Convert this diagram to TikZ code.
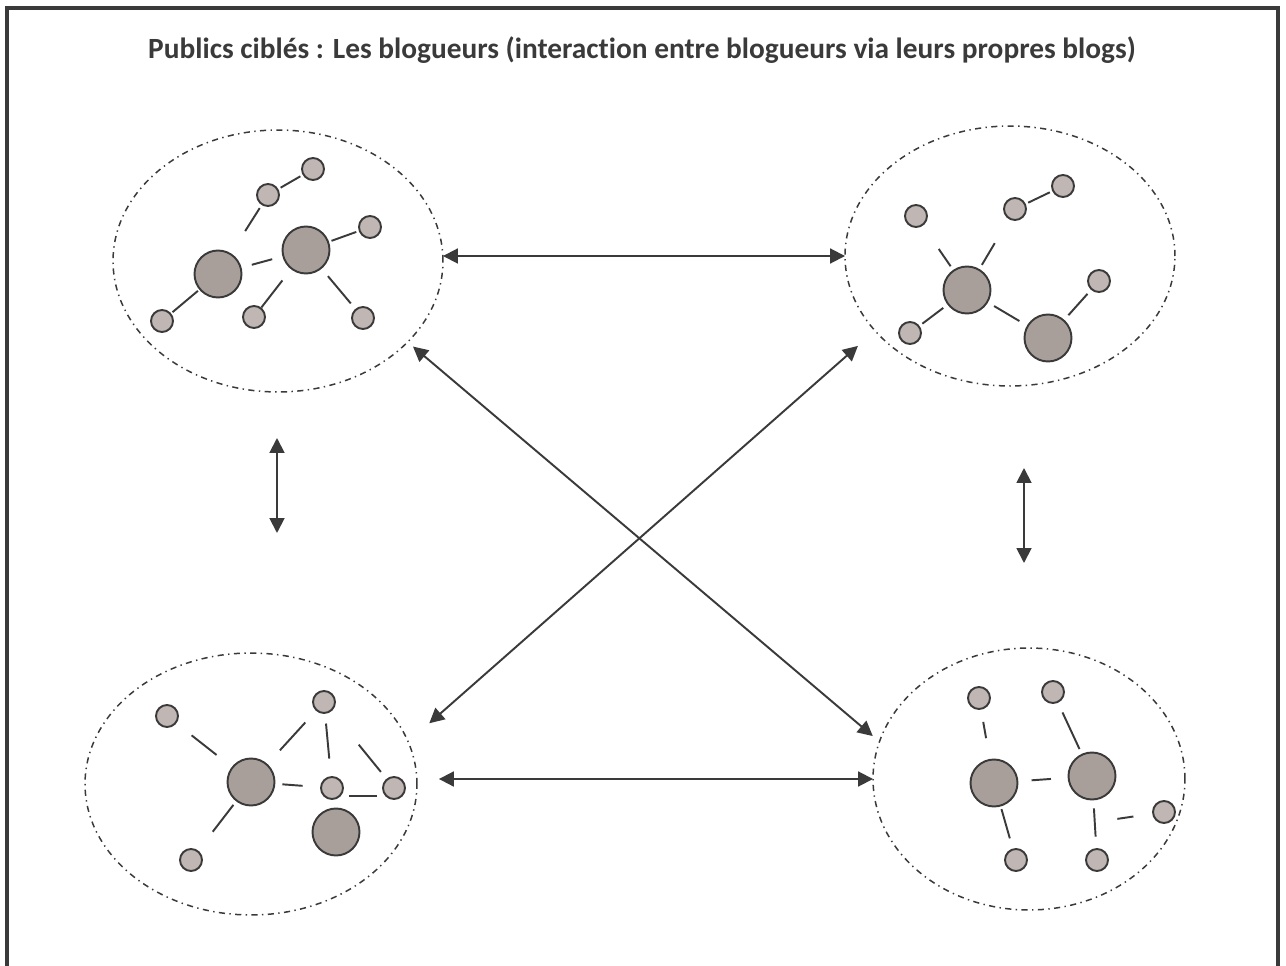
\documentclass[tikz,border=0pt]{standalone}
\usepackage{fontspec}
\setmainfont{Carlito}[Ligatures = NoCommon]
\usetikzlibrary{arrows.meta, shapes.geometric, calc}

\definecolor{trait}{HTML}{3A3A3A}
\definecolor{clair}{HTML}{C0B7B4}
\definecolor{fonce}{HTML}{A89F9B}

\begin{document}
\begin{tikzpicture}[x = 0.02cm, y = -0.02cm,
	petit/.style = {circle, draw = trait, line width = 1.1pt, fill = clair, minimum size = 0.44cm, inner sep = 0},
	grand/.style = {circle, draw = trait, line width = 1.1pt, fill = fonce, minimum size = 0.94cm, inner sep = 0},
	lien/.style = {draw = trait, line width = 1.1pt},
	groupe/.style = {ellipse, draw = trait, line width = 0.85pt, dash pattern = on 3.5pt off 2.5pt on 0.8pt off 2.5pt, inner sep = 0, outer sep = 0},
	fleche/.style = {{Triangle[length = 8.5pt, width = 8.5pt]}-{Triangle[length = 8.5pt, width = 8.5pt]}, draw = trait, line width = 1.1pt}]
	%	cadre
	
	\useasboundingbox (0, 0) rectangle (1286, 966);
	\draw[trait, line width = 2.2pt] (7, 980) -- (7, 8) -- (1278, 8) -- (1278, 980);
	\node[font = \bfseries\fontsize{16.7}{20}\selectfont, text = trait] (titre) at (642, 50) {Publics ciblés : Les blogueurs (interaction entre blogueurs via leurs propres blogs)};
	
	%	les quatre groupes
	\node[groupe, minimum width = 6.6cm, minimum height = 5.24cm] (hg) at (278, 261) {};
	\node[groupe, minimum width = 6.6cm, minimum height = 5.2cm] (hd) at (1010, 256) {};
	\node[groupe, minimum width = 6.64cm, minimum height = 5.24cm] (bg) at (251, 784) {};
	\node[groupe, minimum width = 6.24cm, minimum height = 5.24cm] (bd) at (1029, 779) {};
	
	%	haut gauche
	\node[petit] (a1) at (313, 169) {};
	\node[petit] (a2) at (268, 195) {};
	\node[grand] (a3) at (218, 274) {};
	\node[grand] (a4) at (306, 250) {};
	\node[petit] (a5) at (370, 227) {};
	\node[petit] (a6) at (162, 321) {};
	\node[petit] (a7) at (254, 317) {};
	\node[petit] (a8) at (363, 318) {};
	\draw[lien, shorten <= 1.5pt, shorten >= 1.5pt] (a2) -- (a1);
	\draw[lien, shorten <= 2pt, shorten >= 15pt] (a2) -- (a3);
	\draw[lien, shorten <= 6pt, shorten >= 6pt] (a3) -- (a4);
	\draw[lien, shorten <= 1.5pt, shorten >= 1.5pt] (a4) -- (a5);
	\draw[lien, shorten <= 1pt, shorten >= 1pt] (a3) -- (a6);
	\draw[lien, shorten >= 8pt] (a7) -- (a4);
	\draw[lien, shorten <= 5.5pt, shorten >= 4pt] (a4) -- (a8);
	
	%	haut droite
	\node[petit] (b1) at (916, 216) {};
	\node[petit] (b2) at (1015, 209) {};
	\node[petit] (b3) at (1063, 186) {};
	\node[grand] (b4) at (967, 290) {};
	\node[petit] (b5) at (910, 333) {};
	\node[grand] (b6) at (1048, 338) {};
	\node[petit] (b7) at (1099, 281) {};
	\draw[lien, shorten <= 1.5pt, shorten >= 1.5pt] (b2) -- (b3);
	\draw[lien, shorten <= 2.5pt, shorten >= 16pt] (b4) -- (b1);
	\draw[lien, shorten <= 2.7pt, shorten >= 15.8pt] (b4) -- (b2);
	\draw[lien, shorten <= 3pt, shorten >= 2pt] (b4) -- (b5);
	\draw[lien, shorten <= 4pt, shorten >= 5pt] (b4) -- (b6);
	\draw[lien, shorten <= 3.5pt, shorten >= 3pt] (b6) -- (b7);
	
	%	bas gauche
	\node[petit] (c1) at (167, 716) {};
	\node[grand] (c2) at (251, 782) {};
	\node[petit] (c3) at (324, 702) {};
	\node[petit] (c4) at (332, 788) {};
	\node[petit] (c5) at (394, 788) {};
	\node[grand] (c6) at (336, 832) {};
	\node[petit] (c7) at (191, 860) {};
	\draw[lien, shorten <= 11pt, shorten >= 11pt] (c1) -- (c2);
	\draw[lien, shorten <= 10.5pt, shorten >= 9pt] (c2) -- (c3);
	\draw[lien, shorten <= 5.5pt, shorten >= 10pt] (c3) -- (c4);
	\draw[lien, shorten <= 4pt, shorten >= 10pt] (c2) -- (c4);
	\draw[lien, shorten <= 24.5pt, shorten >= 5pt] (c3) -- (c5);
	\draw[lien, shorten <= 5pt, shorten >= 5pt] (c4.-45) -- (c5.-135);
	\draw[lien, shorten <= 2.5pt, shorten >= 13.5pt] (c2) -- (c7);
	
	%	bas droite
	\node[petit] (d1) at (979, 698) {};
	\node[petit] (d2) at (1053, 692) {};
	\node[grand] (d3) at (994, 783) {};
	\node[grand] (d4) at (1092, 776) {};
	\node[petit] (d5) at (1164, 812) {};
	\node[petit] (d6) at (1016, 860) {};
	\node[petit] (d7) at (1097, 860) {};
	\coordinate (dj) at ($(d4)!0.55!(d7)$);
	\draw[lien, shorten <= 7pt, shorten >= 12pt] (d1) -- (d3);
	\draw[lien, shorten <= 6pt, shorten >= 3pt] (d2) -- (d4);
	\draw[lien, shorten <= 7.5pt, shorten >= 9.5pt] (d3) -- (d4);
	\draw[lien, shorten <= 1.5pt, shorten >= 6pt] (d3) -- (d6);
	\draw[lien, shorten <= 4.5pt, shorten >= 6.5pt] (d4) -- (d7);
	\draw[lien, shorten <= 10.8pt, shorten >= 13pt] (d5) -- (dj);
	
	%	fleches entre les groupes
	\coordinate (g1) at (277, 438);
	\coordinate (g2) at (277, 533);
	\coordinate (d1b) at (1024, 468);
	\coordinate (d2b) at (1024, 563);
	\draw[fleche] (hg.east |- hd.west) -- (hd.west);
	\draw[fleche, shorten <= 12.5pt] (bg.east |- bd.west) -- (bd.west);
	\draw[fleche] (g1) -- (g2);
	\draw[fleche] (d1b) -- (d2b);
	\draw[fleche, shorten <= 4pt, shorten >= 5pt] (hg.-32) -- (bd.166.5);
	\draw[fleche, shorten <= 13pt, shorten >= 16pt] (hd.209) -- (bg.15.5);
\end{tikzpicture}
\end{document}
